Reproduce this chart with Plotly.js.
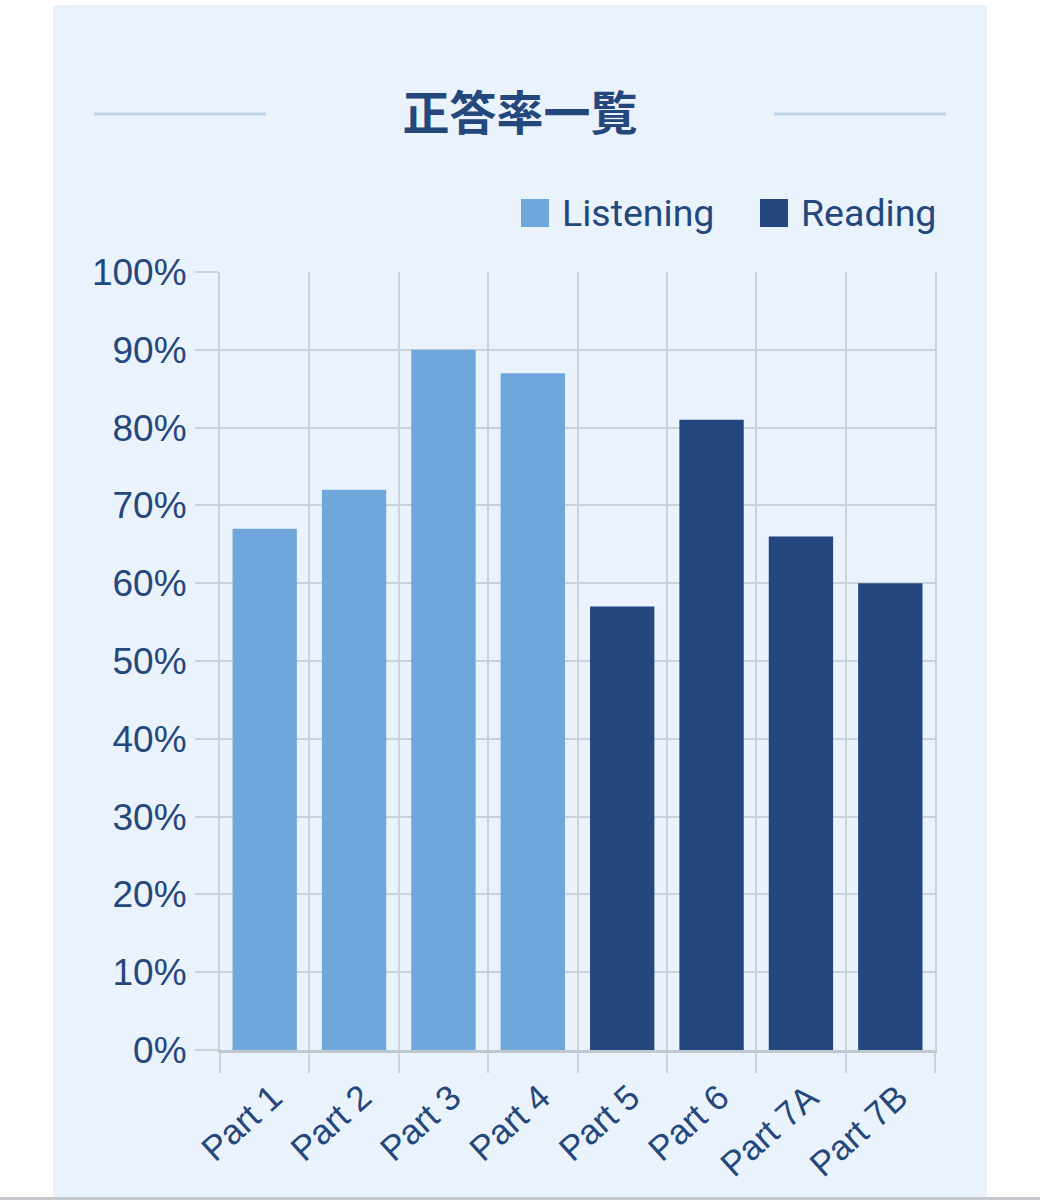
<!DOCTYPE html>
<html>
<head>
<meta charset="utf-8">
<script src="https://cdn.plot.ly/plotly-3.0.1.min.js"></script>
<style>
	body{margin:0; background:#ffffff;}
	#panel{position:absolute; left:53px; top:5px; width:934px; height:1192px; background:#eaf3fb;}
	#bottomline{position:absolute; left:0; top:1197px; width:1040px; height:3px; background:#c4c8cc;}
	#chart{position:absolute; left:0; top:0; width:1040px; height:1200px;}
</style>
</head>
<body>
<div id="panel"></div>
<div id="bottomline"></div>
<div id="chart"></div>
<script>
// data
var listeningParts = ['Part 1', 'Part 2', 'Part 3', 'Part 4'];
var listeningRates = [67, 72, 90, 87];
var readingParts = ['Part 5', 'Part 6', 'Part 7A', 'Part 7B'];
var readingRates = [57, 81, 66, 60];
var allParts = listeningParts.concat(readingParts);
var chartTitle = '正答率一覧';
var seriesNames = ['Listening', 'Reading'];

var LIGHT = '#6fa7da';
var DARK = '#23477e';
var TEXT = '#24477c';
var GRID = '#cbd2db';

// plot area in pixels (div is 1040x1200)
var L = 220, R = 935, T = 272, B = 1050;
var px = function(x){ return (x - L) / (R - L); };
var py = function(y){ return (B - y) / (B - T); };

var data = [
	{type:'bar', name:seriesNames[0], x:listeningParts, y:listeningRates,
		marker:{color:LIGHT}, hoverinfo:'x+y', showlegend:false},
	{type:'bar', name:seriesNames[1], x:readingParts, y:readingRates,
		marker:{color:DARK}, hoverinfo:'x+y', showlegend:false}
];

// title side lines and the hand made legend
var shapes = [
	{type:'line', xref:'paper', yref:'paper', x0:px(94), x1:px(266), y0:py(114), y1:py(114),
		line:{color:'#bcd4ea', width:3}},
	{type:'line', xref:'paper', yref:'paper', x0:px(774), x1:px(946), y0:py(114), y1:py(114),
		line:{color:'#bcd4ea', width:3}},
	{type:'rect', xref:'paper', yref:'paper', x0:px(521), x1:px(549), y0:py(199), y1:py(227),
		fillcolor:LIGHT, line:{width:0}},
	{type:'rect', xref:'paper', yref:'paper', x0:px(760), x1:px(788), y0:py(199), y1:py(227),
		fillcolor:DARK, line:{width:0}}
];
var annotations = [
	{xref:'paper', yref:'paper', x:px(560), y:py(213), text:seriesNames[0], showarrow:false,
		xanchor:'left', yanchor:'middle', font:{family:'Roboto', size:37.5, color:TEXT}},
	{xref:'paper', yref:'paper', x:px(799), y:py(213), text:seriesNames[1], showarrow:false,
		xanchor:'left', yanchor:'middle', font:{family:'Roboto', size:37.5, color:TEXT}}
];

var layout = {
	width:1040, height:1200,
	margin:{l:L, r:1040 - R, t:T, b:1200 - B, pad:0},
	paper_bgcolor:'rgba(0,0,0,0)',
	plot_bgcolor:'rgba(0,0,0,0)',
	title:{text:chartTitle, xref:'container', x:0.5, xanchor:'center',
		yref:'container', y:1 - 114/1200, yanchor:'middle',
		font:{family:'Noto Sans CJK JP', size:47, weight:'bold', color:TEXT}},
	barmode:'overlay',
	bargap:0.28,
	xaxis:{
		type:'category', categoryorder:'array', categoryarray:allParts,
		tickson:'boundaries', ticks:'outside', ticklen:20, tickwidth:2, tickcolor:GRID,
		showgrid:true, gridcolor:GRID, gridwidth:2,
		showline:true, linecolor:'#bfc7cf', linewidth:3,
		tickangle:-42, tickfont:{family:'Liberation Sans', size:35, color:TEXT},
		ticklabelstandoff:10, ticklabelshift:8,
		fixedrange:true
	},
	yaxis:{
		range:[0, 100], dtick:10, ticksuffix:'%',
		ticks:'outside', ticklen:23, tickwidth:2, tickcolor:GRID,
		showgrid:true, gridcolor:GRID, gridwidth:2, zeroline:false,
		showline:true, mirror:true, linecolor:GRID, linewidth:2,
		tickfont:{family:'Liberation Sans', size:37, color:TEXT},
		ticklabelstandoff:1,
		fixedrange:true
	},
	shapes:shapes,
	annotations:annotations
};

Plotly.newPlot('chart', data, layout, {displayModeBar:false, staticPlot:true});
</script>
</body>
</html>
